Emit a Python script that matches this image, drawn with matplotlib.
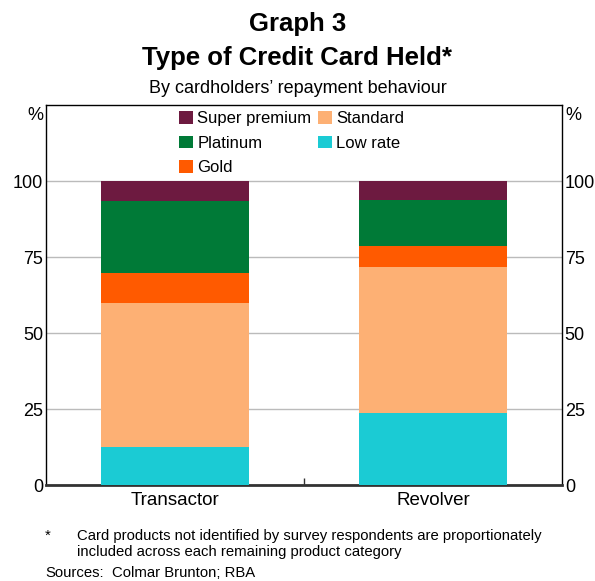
import matplotlib
matplotlib.use("Agg")
import matplotlib.pyplot as plt
import numpy as np

plt.rcParams['font.family'] = ['Liberation Sans', 'DejaVu Sans']

categories = ["Transactor", "Revolver"]
series_names = ["Low rate", "Standard", "Gold", "Platinum", "Super premium"]
low_rate = [12.7, 23.9]
standard = [47.3, 47.8]
gold = [10.0, 7.1]
platinum = [23.4, 15.2]
super_premium = [6.6, 6.0]
yticks = [0, 25, 50, 75, 100]

colors = {"Low rate": "#1BCBD4", "Standard": "#FDB074", "Gold": "#FF5A00",
          "Platinum": "#007A37", "Super premium": "#6D1A40"}

W, H = 595, 581
fig = plt.figure(figsize=(W/100, H/100), dpi=100)
ax = fig.add_axes([46/W, 1-485.3/H, 516/W, 380/H])

x = np.arange(len(categories))
data = [low_rate, standard, gold, platinum, super_premium]
bottom = np.zeros(len(categories))
handles = {}
for name, vals in zip(series_names, data):
    b = ax.bar(x, vals, width=0.575, bottom=bottom, color=colors[name], label=name, zorder=3)
    handles[name] = b
    bottom += np.array(vals)

ax.set_xlim(-0.5, 1.5)
ax.set_ylim(0, 125)
ax.set_yticks(yticks)
ax.yaxis.grid(True, color="#BBBBBB", linewidth=1, zorder=0)
ax.set_axisbelow(True)
ax.tick_params(axis='y', length=0, labelsize=13, left=False, right=False,
               labelleft=True, labelright=True, pad=2)
ax.set_xticks(x)
ax.set_xticklabels(categories, fontsize=13.5)
ax.set_xticks([0.5], minor=True)
ax.tick_params(axis='x', which='major', length=0, pad=5)
ax.tick_params(axis='x', which='minor', direction='in', length=5, width=1, color="#333333")
for s in ['left', 'right', 'top']:
    ax.spines[s].set_linewidth(1)
    ax.spines[s].set_color('black')
ax.spines['bottom'].set_linewidth(2)
ax.spines['bottom'].set_color('#333333')

order = ["Super premium", "Platinum", "Gold", "Standard", "Low rate"]
leg = fig.legend([handles[n] for n in order], order, ncol=2, loc='upper left',
                 bbox_to_anchor=(179/W, 1-111/H), bbox_transform=fig.transFigure,
                 frameon=False, fontsize=12, borderpad=0, borderaxespad=0,
                 handlelength=0.85, handleheight=0.8, handletextpad=0.25,
                 columnspacing=0.38, labelspacing=0.56)

fig.text(43/W, 1-115/H, "%", fontsize=13, ha='right', va='center')
fig.text(565/W, 1-115/H, "%", fontsize=13, ha='left', va='center')

fig.text(0.5, 1-31/H, "Graph 3", fontsize=18.5, fontweight='bold', ha='center', va='baseline')
fig.text(0.5, 1-65/H, "Type of Credit Card Held*", fontsize=18.5, fontweight='bold', ha='center', va='baseline')
fig.text(0.5, 1-93/H, "By cardholders\u2019 repayment behaviour", fontsize=13, ha='center', va='baseline')

fs = 10.7
fig.text(45/W, 1-540/H, "*", fontsize=fs, ha='left', va='baseline')
fig.text(77/W, 1-540/H, "Card products not identified by survey respondents are proportionately",
         fontsize=fs, ha='left', va='baseline')
fig.text(77/W, 1-556/H, "included across each remaining product category",
         fontsize=fs, ha='left', va='baseline')
fig.text(45/W, 1-577/H, "Sources:", fontsize=fs, ha='left', va='baseline')
fig.text(112/W, 1-577/H, "Colmar Brunton; RBA", fontsize=fs, ha='left', va='baseline')

fig.savefig("out.png", dpi=100)
